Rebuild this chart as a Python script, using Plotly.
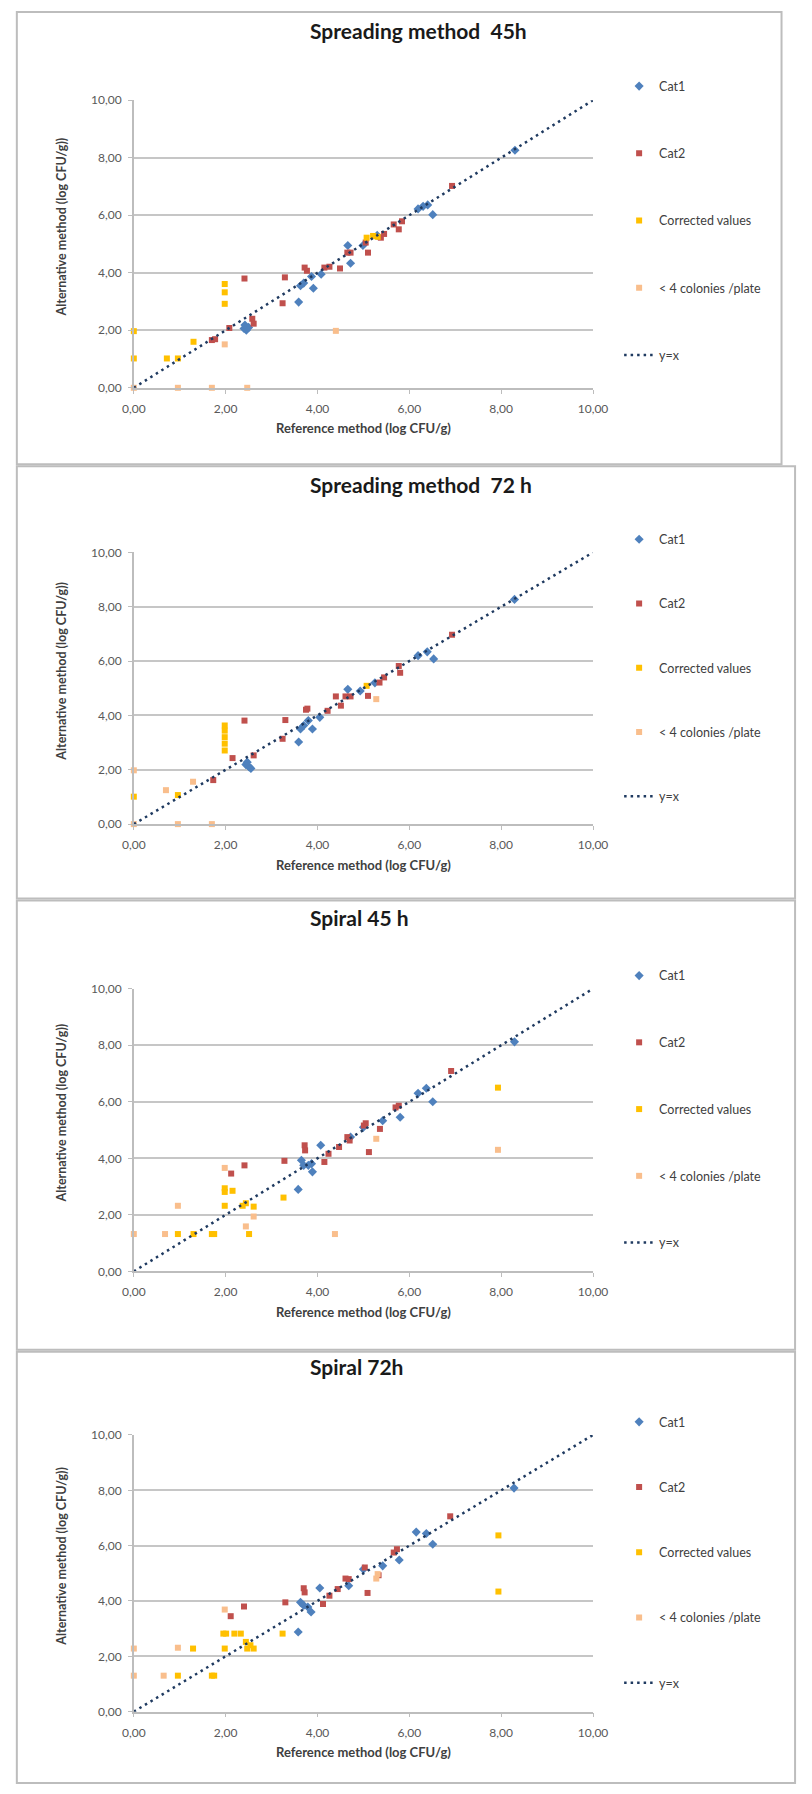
import plotly.graph_objects as go

W, H = 812, 1794

# ---------------- data ----------------
panel_titles = ["Spreading method  45h", "Spreading method  72 h", "Spiral 45 h", "Spiral 72h"]
series_names = ["Cat1", "Cat2", "Corrected values", "< 4 colonies /plate", "y=x"]
tick_values = [0, 2, 4, 6, 8, 10]
identity_line = [0, 10]

# Spreading method 45h
sp45_cat1_x = [2.40, 2.45, 2.50, 2.42, 3.59, 3.63, 3.70, 3.91, 3.87, 4.08, 4.66, 4.72, 4.99, 5.30, 6.19, 6.30, 6.40, 6.51, 8.30]
sp45_cat1_y = [2.06, 2.00, 2.10, 2.18, 2.98, 3.55, 3.64, 3.46, 3.87, 3.95, 4.95, 4.33, 4.95, 5.30, 6.22, 6.31, 6.36, 6.02, 8.26]
sp45_cat2_x = [1.70, 1.77, 2.08, 2.41, 2.58, 2.61, 3.24, 3.29, 3.72, 3.77, 4.15, 4.26, 4.49, 4.65, 4.72, 5.10, 5.05, 5.38, 5.45, 5.66, 5.77, 5.84, 6.93]
sp45_cat2_y = [1.66, 1.69, 2.08, 3.80, 2.40, 2.23, 2.94, 3.84, 4.18, 4.07, 4.18, 4.21, 4.15, 4.70, 4.70, 4.70, 5.05, 5.22, 5.35, 5.68, 5.51, 5.79, 7.02]
sp45_corr_x = [0.00, 0.00, 0.72, 0.96, 1.30, 1.98, 1.98, 1.98, 5.07, 5.21, 5.31]
sp45_corr_y = [1.02, 1.97, 1.02, 1.02, 1.60, 3.61, 3.32, 2.92, 5.22, 5.28, 5.25]
sp45_low_x = [0.00, 0.96, 1.70, 1.98, 2.47, 4.40]
sp45_low_y = [0.00, 0.00, 0.00, 1.51, 0.00, 1.98]

# Spreading method 72 h
sp72_cat1_x = [2.44, 2.51, 2.47, 2.55, 3.59, 3.63, 3.70, 3.80, 3.89, 4.05, 4.66, 4.93, 5.25, 6.19, 6.39, 6.53, 8.29]
sp72_cat1_y = [2.19, 2.10, 2.28, 2.05, 3.02, 3.50, 3.63, 3.81, 3.50, 3.93, 4.96, 4.90, 5.20, 6.20, 6.34, 6.08, 8.27]
sp72_cat2_x = [1.73, 2.15, 2.41, 2.61, 3.24, 3.30, 3.75, 3.78, 4.22, 4.40, 4.51, 4.61, 4.72, 5.10, 5.35, 5.45, 5.77, 5.80, 6.93]
sp72_cat2_y = [1.62, 2.43, 3.81, 2.53, 3.14, 3.83, 4.21, 4.25, 4.17, 4.70, 4.36, 4.70, 4.70, 4.72, 5.21, 5.40, 5.82, 5.57, 6.97]
sp72_corr_x = [0.00, 0.96, 1.98, 1.98, 1.98, 1.98, 1.98, 5.07]
sp72_corr_y = [1.01, 1.07, 3.63, 3.44, 3.20, 2.96, 2.71, 5.09]
sp72_low_x = [0.00, 0.00, 0.70, 0.96, 1.29, 1.70, 5.28]
sp72_low_y = [0.00, 1.98, 1.25, 0.00, 1.56, 0.00, 4.60]

# Spiral 45 h
sr45_cat1_x = [3.58, 3.65, 3.70, 3.80, 3.87, 3.89, 4.07, 4.72, 5.00, 5.42, 5.80, 6.19, 6.37, 6.51, 8.29]
sr45_cat1_y = [2.90, 3.93, 3.75, 3.75, 3.81, 3.52, 4.46, 4.75, 5.10, 5.33, 5.45, 6.30, 6.48, 6.00, 8.12]
sr45_cat2_x = [2.12, 2.41, 3.28, 3.72, 3.73, 4.15, 4.24, 4.47, 4.65, 4.70, 5.01, 5.05, 5.12, 5.36, 5.70, 5.77, 6.91]
sr45_cat2_y = [3.46, 3.75, 3.91, 4.46, 4.28, 3.87, 4.16, 4.40, 4.75, 4.63, 5.16, 5.24, 4.22, 5.04, 5.80, 5.86, 7.09]
sr45_corr_x = [0.96, 1.30, 1.70, 1.75, 1.98, 1.98, 2.15, 1.98, 2.37, 2.44, 2.61, 2.51, 3.26, 7.93]
sr45_corr_y = [1.32, 1.32, 1.32, 1.32, 2.94, 2.81, 2.85, 2.32, 2.32, 2.41, 2.29, 1.32, 2.61, 6.50]
sr45_low_x = [0.00, 0.68, 0.96, 1.98, 2.44, 2.61, 4.38, 5.28, 7.93]
sr45_low_y = [1.32, 1.32, 2.32, 3.66, 1.59, 1.94, 1.32, 4.69, 4.30]

# Spiral 72h
sr72_cat1_x = [3.58, 3.63, 3.70, 3.79, 3.86, 4.05, 4.68, 5.00, 5.42, 5.78, 6.15, 6.37, 6.51, 8.28]
sr72_cat1_y = [2.88, 3.95, 3.84, 3.78, 3.60, 4.47, 4.55, 5.15, 5.27, 5.48, 6.49, 6.44, 6.05, 8.08]
sr72_cat2_x = [2.11, 2.40, 3.30, 3.70, 3.72, 4.12, 4.26, 4.44, 4.61, 4.68, 5.03, 5.09, 5.33, 5.66, 5.73, 6.89]
sr72_cat2_y = [3.45, 3.80, 3.95, 4.46, 4.31, 3.89, 4.19, 4.43, 4.81, 4.79, 5.21, 4.29, 4.93, 5.75, 5.87, 7.06]
sr72_corr_x = [0.96, 1.29, 1.70, 1.75, 1.98, 1.95, 2.01, 2.19, 2.33, 2.44, 2.54, 2.61, 2.47, 3.24, 7.94, 7.94]
sr72_corr_y = [1.30, 2.28, 1.30, 1.30, 2.28, 2.82, 2.82, 2.82, 2.82, 2.52, 2.40, 2.28, 2.28, 2.82, 6.37, 4.34]
sr72_low_x = [0.00, 0.00, 0.65, 0.96, 1.98, 5.28, 5.31]
sr72_low_y = [1.30, 2.28, 1.30, 2.31, 3.69, 4.81, 4.97]

panel_series = [
    [(sp45_cat1_x, sp45_cat1_y), (sp45_cat2_x, sp45_cat2_y), (sp45_corr_x, sp45_corr_y), (sp45_low_x, sp45_low_y)],
    [(sp72_cat1_x, sp72_cat1_y), (sp72_cat2_x, sp72_cat2_y), (sp72_corr_x, sp72_corr_y), (sp72_low_x, sp72_low_y)],
    [(sr45_cat1_x, sr45_cat1_y), (sr45_cat2_x, sr45_cat2_y), (sr45_corr_x, sr45_corr_y), (sr45_low_x, sr45_low_y)],
    [(sr72_cat1_x, sr72_cat1_y), (sr72_cat2_x, sr72_cat2_y), (sr72_corr_x, sr72_corr_y), (sr72_low_x, sr72_low_y)],
]

# ---------------- styling ----------------
FONT = "Lato"
marker_styles = [
    dict(symbol="diamond", size=7, color="#4F81BD"),
    dict(symbol="square", size=6, color="#C0504D"),
    dict(symbol="square", size=6, color="#FFC000"),
    dict(symbol="square", size=6, color="#F9BE8C"),
]
GRID = "#C6C6C6"
AXIS = "#BDBDBD"
TICK_FONT = dict(family=FONT, size=12, color="#595959")

# pixel layout of each panel
PLOT_LEFT, PLOT_RIGHT = 126, 601
panels_px = [
    dict(box=(4, 460), right=796, y10=93, y0=383, title=23, leg_top=64, gap=48),
    dict(box=(462, 898), right=810, y10=549, y0=823, title=481, leg_top=521, gap=45),
    dict(box=(900, 1353), right=810, y10=989, y0=1274, title=917, leg_top=961, gap=47.5),
    dict(box=(1355, 1790), right=810, y10=1439, y0=1718, title=1370, leg_top=1411, gap=46),
]


def fx(p):
    return p / W


def fy(p):
    return 1 - p / H


fig = go.Figure()
layout = dict(
    width=W, height=H,
    margin=dict(l=0, r=0, t=0, b=0),
    paper_bgcolor="white", plot_bgcolor="white",
    separators=", ",
    showlegend=True,
    font=dict(family=FONT, color="#404040"),
)
annotations = []
shapes = []

for i, (geo, series) in enumerate(zip(panels_px, panel_series), start=1):
    sfx = "" if i == 1 else str(i)
    xa, ya, lg = "x" + sfx, "y" + sfx, "legend" + sfx

    for k, (xs, ys) in enumerate(series):
        fig.add_trace(go.Scatter(
            x=xs, y=ys, mode="markers", name=series_names[k],
            marker=dict(line=dict(width=0), **marker_styles[k]),
            xaxis=xa, yaxis=ya, legend=lg, legendgroup=f"{i}-{k}",
            cliponaxis=False, hoverinfo="x+y",
        ))
    fig.add_trace(go.Scatter(
        x=identity_line, y=identity_line, mode="lines", name=series_names[4],
        line=dict(color="#1F3A60", width=2.5, dash="2.5px,4px"),
        xaxis=xa, yaxis=ya, legend=lg, legendgroup=f"{i}-4",
        cliponaxis=False,
    ))

    layout["xaxis" + sfx] = dict(
        domain=[fx(PLOT_LEFT), fx(PLOT_RIGHT)], range=[0, 10],
        tickvals=tick_values, tickformat=".2f", anchor=ya,
        showgrid=False, zeroline=False, showline=True,
        linecolor=AXIS, linewidth=1.5, ticks="outside", ticklen=4,
        tickcolor=AXIS, tickfont=TICK_FONT, ticklabelstandoff=5,
        fixedrange=True,
    )
    layout["yaxis" + sfx] = dict(
        domain=[fy(geo["y0"]), fy(geo["y10"])], range=[0, 10],
        tickvals=tick_values, tickformat=".2f", anchor=xa,
        showgrid=True, gridcolor=GRID, gridwidth=2, zeroline=False,
        showline=True, linecolor=AXIS, linewidth=1.5, ticks="outside",
        ticklen=4, tickcolor=AXIS, tickfont=TICK_FONT, ticklabelstandoff=4,
        fixedrange=True,
    )
    layout[lg] = dict(
        x=fx(628), xanchor="left", y=fy(geo["leg_top"]), yanchor="top",
        tracegroupgap=geo["gap"], bgcolor="rgba(0,0,0,0)",
        font=dict(family=FONT, size=12.5, color="#404040"),
    )

    # chart title
    annotations.append(dict(
        text=panel_titles[i - 1], x=fx(306), y=fy(geo["title"]),
        xref="paper", yref="paper", xanchor="left", yanchor="middle",
        showarrow=False, font=dict(family=FONT, size=21, color="#1A1A1A", weight="bold"),
    ))
    # axis titles
    annotations.append(dict(
        text="Reference method (log CFU/g)", x=fx((PLOT_LEFT + PLOT_RIGHT) / 2),
        y=fy(geo["y0"] + 41), xref="paper", yref="paper",
        xanchor="center", yanchor="middle", showarrow=False,
        font=dict(family=FONT, size=13, color="#404040", weight="bold"),
    ))
    annotations.append(dict(
        text="Alternative method (log CFU/g))", x=fx(51),
        y=fy((geo["y0"] + geo["y10"]) / 2 - 17), xref="paper", yref="paper",
        xanchor="center", yanchor="middle", textangle=-90, showarrow=False,
        font=dict(family=FONT, size=12.5, color="#404040", weight="bold"),
    ))
    # panel frame
    top, bottom = geo["box"]
    shapes.append(dict(
        type="rect", xref="paper", yref="paper",
        x0=fx(5), x1=fx(geo["right"]), y0=fy(bottom), y1=fy(top),
        line=dict(color="#BDBDBD", width=2), fillcolor="rgba(0,0,0,0)",
        layer="below",
    ))

layout["annotations"] = annotations
layout["shapes"] = shapes
fig.update_layout(**layout)

fig.write_html("out.html")
